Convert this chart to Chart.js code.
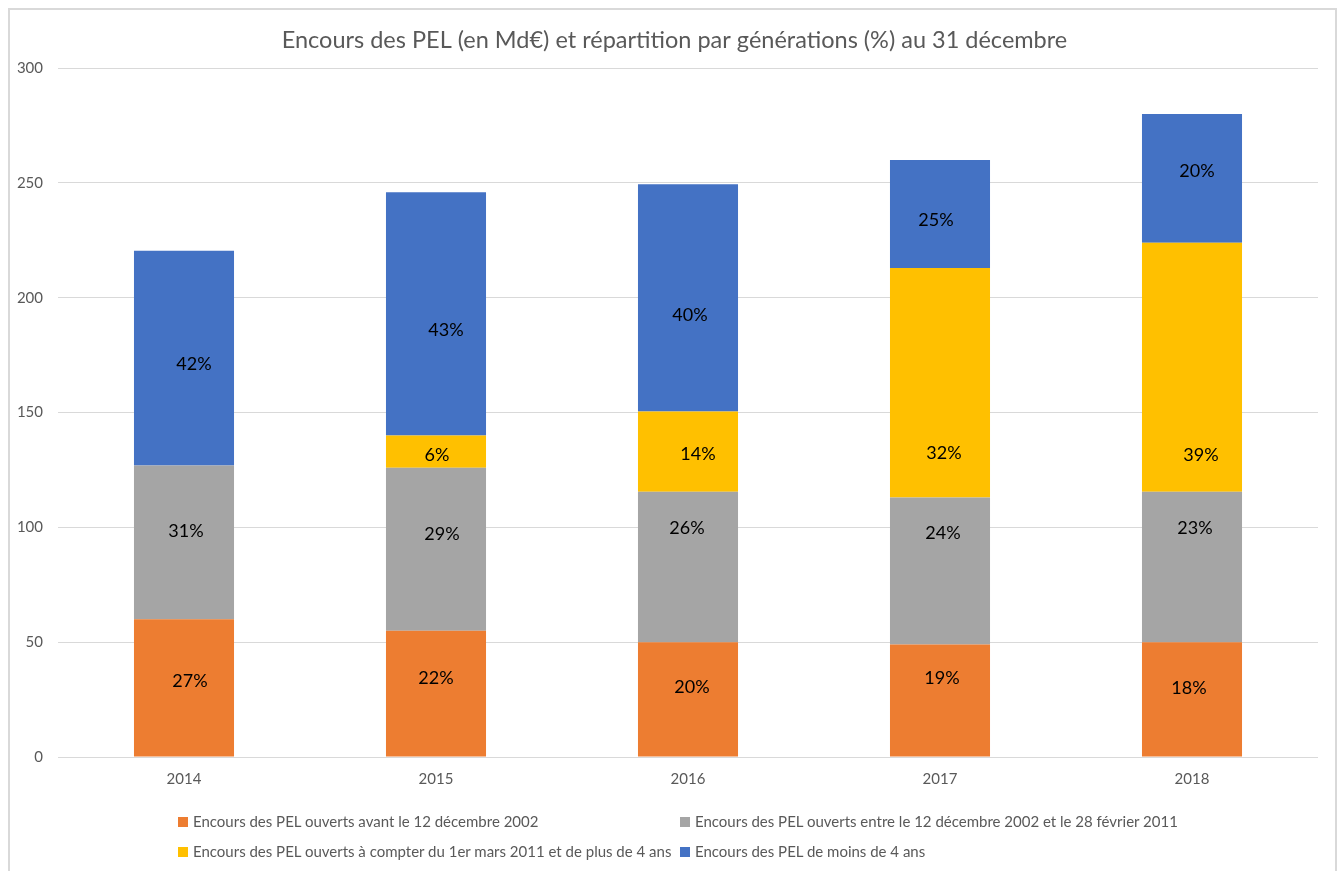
<!DOCTYPE html>
<html>
<head>
<meta charset="utf-8">
<script src="https://cdn.jsdelivr.net/npm/chart.js@4.4.0/dist/chart.umd.min.js"></script>
<style>
  body { margin: 0; background: #fff; font-family: Lato, "Noto Sans", sans-serif; }
  #wrap { position: relative; width: 1343px; height: 871px; }
  #frame { position: absolute; left: 8px; top: 8px; width: 1329px; height: 870px;
           border: 2px solid #d9d9d9; box-sizing: border-box; pointer-events: none; }
  .leg { position: absolute; font-size: 15px; color: #595959; white-space: nowrap; }
  .leg span { display: inline-block; width: 10px; height: 10px; margin-right: 5px; }
</style>
</head>
<body>
<div id="wrap">
  <canvas id="pel-chart" width="1343" height="871"></canvas>
  <div id="frame"></div>
  <div id="legend"></div>
</div>
<script>
// categories
const years = ["2014", "2015", "2016", "2017", "2018"];

// encours en Md€ par génération
const avant2002  = [60, 55, 50, 49, 50];
const entre2002  = [67, 71, 65.5, 64, 65.5];
const depuis2011 = [0, 14, 35, 100, 108.5];
const moins4ans  = [93.5, 106, 99, 47, 56];

// parts affichées (%)
const pctAvant   = ["27%", "22%", "20%", "19%", "18%"];
const pctEntre   = ["31%", "29%", "26%", "24%", "23%"];
const pctDepuis  = ["", "6%", "14%", "32%", "39%"];
const pctMoins   = ["42%", "43%", "40%", "25%", "20%"];

const seriesNames = [
    "Encours des PEL ouverts avant le 12 décembre 2002",
    "Encours des PEL ouverts entre le 12 décembre 2002 et le 28 février 2011",
    "Encours des PEL ouverts à compter du 1er mars 2011 et de plus de 4 ans",
    "Encours des PEL de moins de 4 ans"
];
const colors = ["#ED7D31", "#A5A5A5", "#FFC000", "#4472C4"];
const yTicks = [0, 50, 100, 150, 200, 250, 300];

const pctLabels = [pctAvant, pctEntre, pctDepuis, pctMoins];
const values = [avant2002, entre2002, depuis2011, moins4ans];

// the labels were nudged by hand in the original: [dx, dy] px from segment centre
const labelNudge = [
    [[6, -8], [0, -16], [4, -13], [2, -23], [-3, -12]],
    [[2, -12], [6, -16], [-1, -40], [3, -39], [3, -40]],
    [[0, 0], [1, 3], [10, 2], [4, 69], [9, 87]],
    [[10, 5], [10, 15], [2, 16], [-4, 5], [5, -8]]
];

const segmentLabels = {
    id: "segmentLabels",
    afterDatasetsDraw(chart) {
        const ctx = chart.ctx;
        ctx.save();
        ctx.font = "18px Lato, 'Noto Sans', sans-serif";
        ctx.fillStyle = "#000";
        ctx.textAlign = "center";
        ctx.textBaseline = "middle";
        chart.data.datasets.forEach((ds, i) => {
            chart.getDatasetMeta(i).data.forEach((bar, j) => {
                const txt = pctLabels[i][j];
                if (!txt || !ds.data[j]) return;
                const [dx, dy] = labelNudge[i][j];
                ctx.fillText(txt, bar.x + dx, (bar.y + bar.base) / 2 + dy + 1);
            });
        });
        ctx.restore();
    }
};

new Chart(document.getElementById("pel-chart"), {
    type: "bar",
    data: {
        labels: years,
        datasets: values.map((v, i) => ({
            label: seriesNames[i],
            data: v,
            backgroundColor: colors[i],
            barPercentage: 0.397,
            categoryPercentage: 1
        }))
    },
    options: {
        responsive: false,
        animation: false,
        layout: { padding: { top: 8, left: 14, right: 8, bottom: 80 } },
        plugins: {
            legend: { display: false },
            tooltip: { enabled: false },
            title: {
                display: true,
                text: "Encours des PEL (en Md€) et répartition par générations (%) au 31 décembre",
                color: "#595959",
                font: { family: "Lato, 'Noto Sans', sans-serif", size: 23.5, weight: "normal" },
                padding: { top: 18, bottom: 14 }
            }
        },
        scales: {
            x: {
                stacked: true,
                grid: { display: false },
                border: { display: false },
                ticks: { color: "#595959", padding: 5,
                         font: { family: "Lato, 'Noto Sans', sans-serif", size: 15 } },
                afterFit(s) { s.height = 34; }
            },
            y: {
                stacked: true,
                min: 0, max: 300,
                afterBuildTicks(s) { s.ticks = yTicks.map(v => ({ value: v })); },
                grid: { color: "#d9d9d9", drawTicks: false },
                border: { display: false },
                ticks: { color: "#595959", padding: 15,
                         font: { family: "Lato, 'Noto Sans', sans-serif", size: 15 } },
                afterFit(s) { s.width = 44; }
            },
            // empty right-hand spacer so the plot ends where the original does
            yRight: {
                position: "right",
                grid: { display: false },
                border: { display: false },
                ticks: { display: false },
                afterFit(s) { s.width = 17; }
            }
        }
    },
    plugins: [segmentLabels]
});

// legend in two columns like the original
const legPos = [[178, 812], [680, 812], [178, 842], [680, 842]];
const legend = document.getElementById("legend");
seriesNames.forEach((name, i) => {
    const d = document.createElement("div");
    d.className = "leg";
    d.style.left = legPos[i][0] + "px";
    d.style.top = legPos[i][1] + "px";
    d.innerHTML = `<span style="background:${colors[i]}"></span>${name}`;
    legend.appendChild(d);
});
</script>
</body>
</html>
